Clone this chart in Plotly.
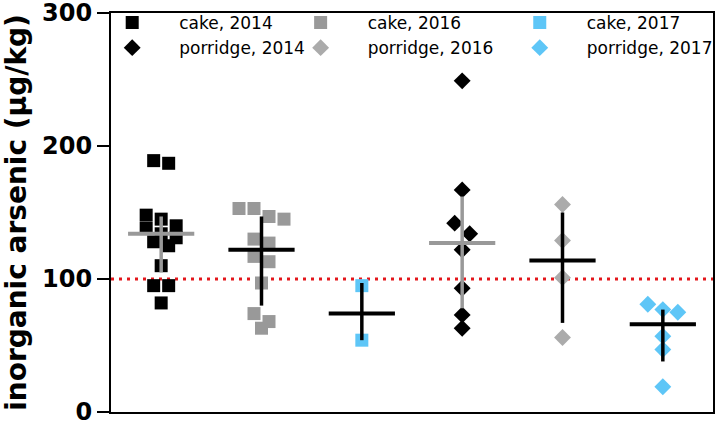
import plotly.graph_objects as go

# groups, in axis order
groups = ["cake, 2014", "cake, 2016", "cake, 2017",
          "porridge, 2014", "porridge, 2016", "porridge, 2017"]

cake_2014 = [189, 187, 148, 145, 140, 138, 134, 131, 128, 125, 110, 95, 95, 82]
cake_2016 = [153, 153, 147, 145, 130, 127, 117, 113, 97, 74, 68, 63]
cake_2017 = [95, 54]
porridge_2014 = [249, 167, 142, 134, 122, 93, 73, 63]
porridge_2016 = [156, 129, 101, 56]
porridge_2017 = [81, 77, 75, 57, 47, 19]

# median with interquartile range, as drawn
medians = [134, 122, 74, 127, 114, 66]
q_low = [105, 80, 54, 78, 67, 38]
q_high = [147, 147, 97, 162, 150, 77]

limit = 100

values = [cake_2014, cake_2016, cake_2017, porridge_2014, porridge_2016, porridge_2017]
symbols = ["square", "square", "square", "diamond", "diamond", "diamond"]
colors = ["#000000", "#999999", "#5ec6f7", "#000000", "#ababab", "#5ec6f7"]
bar_colors = ["#999999", "#000000", "#000000", "#999999", "#000000", "#000000"]
legends = ["legend", "legend2", "legend3", "legend", "legend2", "legend3"]

PX_PER_UNIT = 399 / 300   # y pixels per µg/kg
PX_PER_CAT = 602 / 6      # x pixels per category

FONT = "DejaVu Sans"


def swarm(vals, row_px=11, step_px=15):
    # bin sorted values into rows, spread each row symmetrically
    order = sorted(range(len(vals)), key=lambda k: -vals[k])
    offsets = [0.0] * len(vals)
    rows, row = [], []
    for k in order:
        if row and (vals[row[0]] - vals[k]) * PX_PER_UNIT > row_px:
            rows.append(row)
            row = []
        row.append(k)
    rows.append(row)
    for row in rows:
        n = len(row)
        for i, k in enumerate(row):
            offsets[k] = (i - (n - 1) / 2) * step_px / PX_PER_CAT
    return offsets


fig = go.Figure()

for i, name in enumerate(groups):
    offs = swarm(values[i])
    fig.add_trace(go.Scatter(
        x=[i + o for o in offs],
        y=values[i],
        mode="markers",
        name="\u00a0" * 5 + name,
        legend=legends[i],
        marker=dict(symbol=symbols[i], color=colors[i],
                    size=13, line=dict(width=0)),
    ))

for i in range(len(groups)):
    fig.add_trace(go.Scatter(
        x=[i], y=[medians[i]],
        mode="markers",
        marker=dict(size=0.1, color=bar_colors[i]),
        showlegend=False,
        hoverinfo="skip",
        error_x=dict(type="constant", value=0.33, width=0,
                     thickness=4, color=bar_colors[i]),
        error_y=dict(type="data", symmetric=False,
                     array=[q_high[i] - medians[i]],
                     arrayminus=[medians[i] - q_low[i]],
                     width=0, thickness=3.5, color=bar_colors[i]),
    ))

fig.add_shape(type="line", xref="paper", x0=0, x1=1, yref="y", y0=limit, y1=limit,
              line=dict(color="#e3161b", width=3, dash="3px,5px"), layer="below")

leg_font = dict(family=FONT, size=17, color="black")
leg_common = dict(orientation="v", y=1.02, yanchor="top", font=leg_font,
                  bgcolor="rgba(0,0,0,0)", tracegroupgap=0, itemsizing="trace")

fig.update_layout(
    width=715, height=424,
    margin=dict(l=111, r=2, t=13, b=12, autoexpand=False),
    plot_bgcolor="white", paper_bgcolor="white",
    font=dict(family=FONT, color="black"),
    legend=dict(x=0.002, xanchor="left", **leg_common),
    legend2=dict(x=0.315, xanchor="left", **leg_common),
    legend3=dict(x=0.679, xanchor="left", **leg_common),
    xaxis=dict(range=[-0.5, 5.5], showticklabels=False, ticks="",
               showgrid=False, zeroline=False, showline=True,
               linecolor="black", linewidth=2, mirror=True),
    yaxis=dict(range=[0, 300], tickvals=[0, 100, 200, 300],
               ticks="outside", ticklen=12, tickwidth=2, tickcolor="black",
               tickfont=dict(size=24, weight="bold"),
               ticklabeloverflow="allow",
               showgrid=False, zeroline=False, showline=True,
               linecolor="black", linewidth=2, mirror=True,
               title=dict(text="inorganic arsenic (µg/kg)",
                          font=dict(size=28, weight="bold"), standoff=9)),
)

# drop the page's default body margin so the figure sits at the window corner
fig.write_html("out.html", config={"displayModeBar": False},
               post_script="document.body.style.margin='0';")
